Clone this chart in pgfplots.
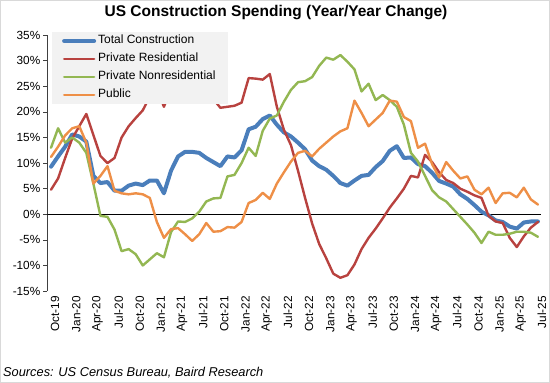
\documentclass[border=0pt]{standalone}
\usepackage{pgfplots}
\usepackage{pgfplotstable}
\pgfplotsset{compat=1.18}
\usepackage{fontspec}
\setmainfont{Liberation Sans}
\definecolor{cTot}{HTML}{4A7EBB}
\definecolor{cRes}{HTML}{B8423F}
\definecolor{cNon}{HTML}{93B752}
\definecolor{cPub}{HTML}{EE8F47}
\definecolor{legfill}{HTML}{F2F2F2}
\pgfplotstableread{
i tot res non pub
0 9.3 4.8 13.0 11.2
1 11.3 7.0 16.8 13.2
2 13.2 11.0 14.0 15.4
3 15.6 14.8 15.0 16.8
4 15.2 17.2 14.0 17.2
5 14.2 19.6 12.0 14.0
6 7.5 15.5 6.0 6.0
7 6.1 11.4 -0.3 7.5
8 6.3 10.0 -0.5 9.4
9 4.6 11.0 -3.0 4.6
10 4.6 15.0 -7.2 4.1
11 5.6 17.2 -6.8 3.9
12 6.0 18.8 -7.8 4.1
13 5.7 20.3 -10.0 3.9
14 6.6 23.0 -8.8 3.2
15 6.6 24.5 -7.6 -1.5
16 4.1 21.0 -8.4 -4.6
17 8.5 24.5 -3.5 -2.9
18 11.3 27.0 -1.4 -2.7
19 12.2 29.0 -1.5 -3.9
20 12.2 28.5 -0.8 -5.2
21 12.0 27.0 0.5 -3.9
22 11.0 25.0 2.5 -1.7
23 10.2 22.5 3.1 -3.4
24 9.4 20.8 3.2 -3.3
25 11.3 21.0 7.4 -2.5
26 11.1 21.2 7.7 -2.6
27 12.5 21.8 10.0 -1.5
28 16.6 26.6 13.0 2.2
29 17.1 26.5 11.4 2.8
30 18.6 26.3 16.3 4.2
31 19.3 27.4 18.7 3.0
32 17.5 21.0 19.3 6.0
33 16.0 16.5 22.0 8.2
34 15.2 13.5 24.3 10.3
35 14.0 8.5 25.8 12.0
36 12.7 3.2 26.0 12.4
37 10.5 -1.8 26.8 11.3
38 9.4 -5.8 29.0 12.8
39 8.7 -8.6 30.6 14.0
40 7.5 -11.6 30.2 15.2
41 6.1 -12.4 31.1 16.2
42 5.6 -11.9 29.8 16.8
43 6.6 -9.8 28.3 22.2
44 7.5 -6.8 24.0 19.8
45 7.7 -4.6 25.5 17.2
46 9.2 -2.8 22.3 18.5
47 10.4 -0.8 23.3 19.8
48 12.4 1.3 22.3 22.2
49 13.3 3.1 21.0 22.0
50 11.0 5.0 17.5 19.0
51 11.1 7.5 12.0 18.2
52 9.8 7.2 10.3 13.0
53 9.4 11.6 7.5 13.8
54 8.1 10.2 4.7 9.8
55 6.5 8.2 3.3 7.2
56 6.0 6.7 2.5 10.2
57 5.4 6.1 1.0 8.5
58 3.9 5.0 -0.5 7.0
59 3.0 4.4 -2.0 7.4
60 1.8 3.7 -3.6 4.8
61 0.5 3.2 -5.6 3.9
62 -0.2 -0.3 -3.4 5.2
63 -1.2 -1.4 -4.0 2.2
64 -1.5 -1.7 -4.0 4.1
65 -2.4 -4.6 -3.8 4.2
66 -2.8 -6.4 -3.4 3.3
67 -1.6 -4.3 -3.4 5.2
68 -1.4 -2.6 -3.6 2.9
69 -1.4 -1.5 -4.4 1.9
}\datatable
\begin{document}
\begin{tikzpicture}[x=1pt,y=1pt]
\useasboundingbox (0,0) rectangle (550,383);
\draw[gray!30, line width=0.8pt] (0.4,0.4) rectangle (549.6,382.6);
\node[font=\fontsize{15.5}{17}\selectfont\bfseries] at (276,370.5) {US Construction Spending (Year/Year Change)};
\node[font=\fontsize{12.8}{14}\selectfont\itshape, anchor=west, inner sep=0pt] at (3,10.5) {Sources: US Census Bureau, Baird Research};
\begin{axis}[
  at={(47.5pt,347.9pt)}, anchor=north west,
  scale only axis, width=494pt, height=256pt,
  xmin=-0.5, xmax=69.5, ymin=-15, ymax=35,
  axis y line*=left, axis x line*=bottom,
  x axis line style={draw=none},
  y axis line style={black!75, line width=0.6pt},
  ytick={-15,-10,...,35},
  yticklabels={-15\%,-10\%,-5\%,0\%,5\%,10\%,15\%,20\%,25\%,30\%,35\%},
  ytick style={black!75, line width=0.6pt},
  tick align=outside, major tick length=4pt,
  xtick={0,3,...,69},
  xticklabels={Oct-19,Jan-20,Apr-20,Jul-20,Oct-20,Jan-21,Apr-21,Jul-21,Oct-21,Jan-22,Apr-22,Jul-22,Oct-22,Jan-23,Apr-23,Jul-23,Oct-23,Jan-24,Apr-24,Jul-24,Oct-24,Jan-25,Apr-25,Jul-25},
  xtick style={draw=none},
  xticklabel style={rotate=90, anchor=east, inner sep=1pt, yshift=-4pt},
  yticklabel style={inner sep=1pt, xshift=-2pt},
  ticklabel style={font=\fontsize{11.8}{13}\selectfont},
  legend style={at={(rel axis cs:0.009,1.013)}, anchor=north west,
    fill=legfill, draw=none, font=\fontsize{12}{14}\selectfont,
    inner xsep=10pt, inner ysep=1.5pt, row sep=3pt,
    nodes={text height=8.5pt, text depth=2.5pt, inner sep=2pt}},
  legend cell align=left,
  legend image code/.code={\draw[#1] (0pt,0pt) -- (30pt,0pt);},
  every axis plot/.append style={line join=round, line cap=round},
]
\draw[black, line width=0.7pt] (axis cs:-0.5,0) -- (axis cs:69.5,0);
\addplot[cTot, line width=4pt] table[x=i,y=tot] {\datatable};
\addlegendentry{Total Construction}
\addplot[cRes, line width=2.4pt] table[x=i,y=res] {\datatable};
\addlegendentry{Private Residential}
\addplot[cNon, line width=2.4pt] table[x=i,y=non] {\datatable};
\addlegendentry{Private Nonresidential}
\addplot[cPub, line width=2.4pt] table[x=i,y=pub] {\datatable};
\addlegendentry{Public}
\end{axis}
\end{tikzpicture}
\end{document}
